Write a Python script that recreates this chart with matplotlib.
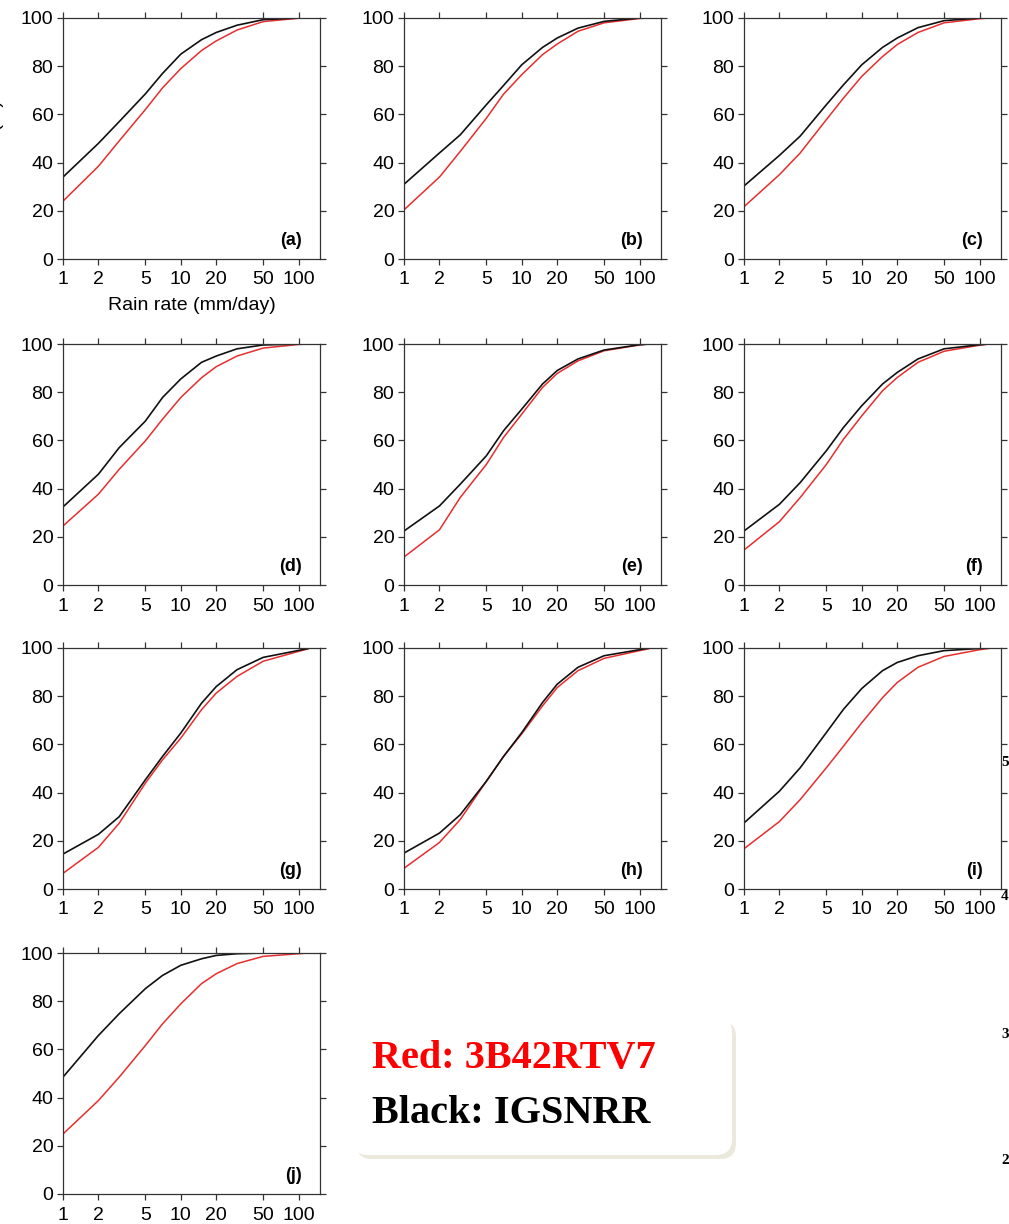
import matplotlib
matplotlib.use("Agg")
import matplotlib.pyplot as plt
from matplotlib.patches import FancyBboxPatch

# rain rate thresholds (mm/day)
rain = [1, 2, 3, 5, 7, 10, 15, 20, 30, 50, 100, 120]

# CDF (%) per panel, black = IGSNRR, red = 3B42RTV7
black_a = [34, 48, 57, 68.5, 77, 85, 91, 94, 97, 99.3, 100, 100]
red_a = [24, 38.5, 49, 62, 71, 79, 86.5, 90.5, 95, 98.5, 99.9, 100]
black_b = [31, 44, 51.5, 64, 72, 80.6, 87.8, 91.7, 95.8, 98.6, 100, 100]
red_b = [20.4, 34, 44.6, 58.4, 68.4, 76.5, 84.8, 89.2, 94.5, 98, 99.8, 100]
black_c = [30.3, 43, 51, 64, 72.3, 80.6, 87.8, 91.7, 96, 98.9, 100, 100]
red_c = [21.7, 35, 44, 57.8, 66.8, 75.8, 84, 89, 94, 98, 99.7, 100]
black_d = [32.4, 46, 57, 68, 77.8, 85.5, 92.4, 95, 98, 99.6, 100, 100]
red_d = [24.5, 37.7, 48, 59.8, 68.8, 77.8, 86, 90.6, 95, 98.3, 99.8, 100]
black_e = [22.4, 32.8, 41.8, 53.6, 64, 73, 83.4, 89, 93.8, 97.5, 99.7, 100]
red_e = [11.6, 22.9, 36.3, 50, 61.2, 70.9, 82, 87.8, 93, 97.2, 99.6, 100]
black_f = [22.4, 33.5, 42.5, 55.7, 65.4, 74.4, 83.4, 88.2, 93.8, 98, 99.7, 100]
red_f = [14.5, 26.3, 36.3, 50, 60.5, 70.2, 80.6, 86.1, 92.4, 97, 99.5, 100]
black_g = [14.5, 22.7, 30, 45.3, 55, 64.7, 77.1, 84, 91, 96.1, 99, 99.8]
red_g = [6.5, 17.3, 27.3, 43.9, 53.6, 62.6, 74.4, 81.3, 88.2, 94.5, 98.6, 99.6]
black_h = [14.9, 23.2, 30.8, 44.7, 55, 64.9, 77.4, 85, 92, 96.8, 99.3, 100]
red_h = [8.6, 19.3, 28.8, 44.7, 55, 64.4, 76, 83.6, 90.6, 95.7, 98.9, 99.7]
black_i = [27.4, 40.6, 50.3, 64.9, 74.6, 83.2, 90.6, 94, 96.8, 98.9, 99.8, 100]
red_i = [16.7, 28, 37.1, 50.3, 59.3, 69, 79.4, 85.7, 92, 96.5, 99.3, 99.8]
black_j = [48.5, 65.8, 74.8, 85.2, 90.7, 94.9, 97.6, 99, 99.7, 100, 100, 100]
red_j = [24.9, 38.8, 48.5, 61.6, 70.6, 78.9, 87.3, 91.4, 95.6, 98.6, 99.7, 100]

panel_labels = ["(a)", "(b)", "(c)", "(d)", "(e)", "(f)", "(g)", "(h)", "(i)", "(j)"]
blacks = [black_a, black_b, black_c, black_d, black_e, black_f, black_g, black_h, black_i, black_j]
reds = [red_a, red_b, red_c, red_d, red_e, red_f, red_g, red_h, red_i, red_j]

xticks = [1, 2, 5, 10, 20, 50, 100]
yticks = [0, 20, 40, 60, 80, 100]

W, H = 1009, 1224
col_left = [63, 404, 744]
row_bottom = [259, 585, 889, 1194]
ax_w, ax_h = 257, 241

plt.rcParams["font.family"] = ["Liberation Sans", "DejaVu Sans"]

fig = plt.figure(figsize=(W / 100, H / 100), dpi=100)

for k in range(10):
    r, c = divmod(k, 3)
    ax = fig.add_axes([col_left[c] / W, 1 - row_bottom[r] / H, ax_w / W, ax_h / H])
    ax.plot(rain, reds[k], color="#e62e2e", lw=1.1)
    ax.plot(rain, blacks[k], color="#111111", lw=1.2)
    ax.set_xscale("log")
    ax.set_xlim(1, 152)
    ax.set_ylim(0, 100)
    ax.set_xticks(xticks)
    ax.set_xticklabels([str(t) for t in xticks])
    ax.xaxis.set_minor_locator(matplotlib.ticker.NullLocator())
    ax.set_yticks(yticks)
    ax.tick_params(direction="out", length=4, width=0.9, color="#333333",
                   labelsize=14, pad=3, top=True, right=True)
    ax.tick_params(axis="x", pad=5)
    for s in ax.spines.values():
        s.set_linewidth(0.9)
        s.set_color("#333333")
    ax.text(0.93, 0.04, panel_labels[k], transform=ax.transAxes, ha="right", va="bottom",
            fontsize=13, fontweight="bold", family="Liberation Sans")
    if k == 0:
        ax.set_xlabel("Rain rate (mm/day)", fontsize=14, labelpad=6)

# y label mostly cut off at the left edge, as in the reference
fig.text(4 / W, 1 - 138 / H, "CDF (%)", rotation=90, ha="right", va="center", fontsize=14)

# legend box with soft shadow
tr = fig.dpi_scale_trans
bx, by, bw, bh = 3.52, 0.69, 3.80, 1.38
shadow = FancyBboxPatch((bx + 0.04, by - 0.04), bw, bh, boxstyle="round,pad=0,rounding_size=0.16",
                        transform=tr, facecolor="#ebe8dc", edgecolor="none")
box = FancyBboxPatch((bx, by), bw, bh, boxstyle="round,pad=0,rounding_size=0.16",
                     transform=tr, facecolor="white", edgecolor="none")
fig.patches.extend([shadow, box])
fig.text(3.72, 1.56, "Red: 3B42RTV7", transform=tr, color="red", fontsize=29,
         fontweight="bold", family="Liberation Serif", va="baseline")
fig.text(3.72, 1.01, "Black: IGSNRR", transform=tr, color="black", fontsize=29,
         fontweight="bold", family="Liberation Serif", va="baseline")

# stray axis digits from a neighbouring figure at the right edge
for txt, yp in [("5", 763), ("4", 897), ("3", 1035), ("2", 1160)]:
    fig.text(1001 / W, 1 - yp / H, txt, fontsize=11, fontweight="bold",
             family="Liberation Serif", va="center", ha="left")

fig.savefig("out.png", dpi=100)
